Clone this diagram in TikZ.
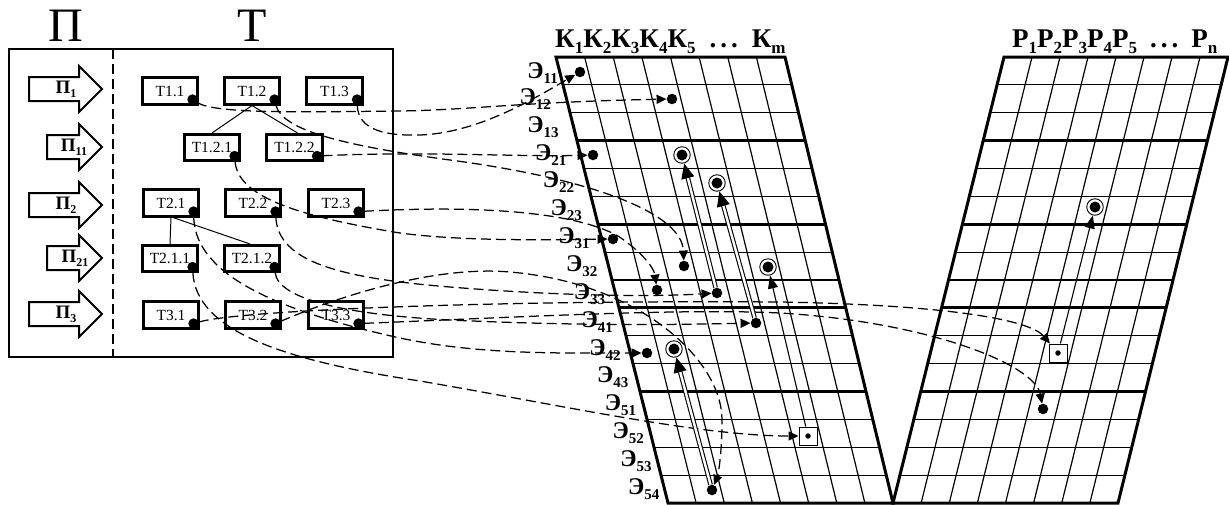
\documentclass[tikz,border=0pt]{standalone}
\usepackage{fontspec}
\setmainfont{Liberation Serif}
\usetikzlibrary{arrows.meta}
\newcommand\Esub[1]{Э\raisebox{-5pt}{\fontsize{15}{15}\selectfont #1}}
\newcommand\Hsub[2]{#1\raisebox{-6pt}{\fontsize{17}{17}\selectfont #2}}
\newcommand\Psub[1]{П\raisebox{-4pt}{\fontsize{12}{12}\selectfont #1}}
\begin{document}
\begin{tikzpicture}[x=1pt,y=-1pt,
  tbox/.style={draw, line width=2.6pt, minimum width=55.5pt, minimum height=26.5pt, inner sep=0pt, font=\fontsize{15.5}{15.5}\selectfont},
  bdot/.style={circle, fill, inner sep=0pt, minimum size=10.5pt},
  ring/.style={circle, draw, fill=white, line width=0.9pt, minimum size=16.5pt, inner sep=0pt},
  ringin/.style={circle, fill, inner sep=0pt, minimum size=11pt},
  sqm/.style={draw, fill=white, line width=1pt, minimum size=18pt, inner sep=0pt},
  sqin/.style={circle, fill, inner sep=0pt, minimum size=5.5pt},
  conn/.style={line width=1.25pt, dash pattern=on 10pt off 5pt, -{Triangle[length=10pt,width=9pt]}},
  dbl/.style={double, double distance=2.4pt, line width=1.1pt, -{Triangle[length=15pt,width=13pt]}},
  sgl/.style={line width=1.1pt, -{Triangle[length=13pt,width=10pt]}},
  thinl/.style={line width=1.2pt},
  thickl/.style={line width=3pt},
  blk/.style={line width=2pt, line join=miter},
  plab/.style={font=\fontsize{19}{19}\selectfont\bfseries, inner sep=0pt},
  elab/.style={font=\fontsize{24}{24}\selectfont\bfseries, anchor=east, inner sep=0pt},
  hlab/.style={font=\fontsize{27}{27}\selectfont\bfseries, anchor=base west, inner sep=0pt},
  big/.style={font=\fontsize{48}{48}\selectfont, inner sep=0pt}
]
\useasboundingbox (0,0) rectangle (1229,504);

% ---------- left frame ----------
\draw[thinl] (9,49) rectangle (393,357);
\draw[line width=1.5pt, dash pattern=on 10pt off 5pt] (113,49) -- (113,357);
\node[big] (Pbig) at (66,26) {П};
\node[big] (Tbig) at (252,26) {Т};

\foreach \xs/\yc/\nm/\lb/\lx in {29/89/p1/1/66, 47/147/p11/11/74, 29/205/p2/2/66, 47/258/p21/21/75, 29/314/p3/3/66} {
  \draw[blk] ({\xs},{\yc-12}) -- (79,{\yc-12}) -- (79,{\yc-23}) -- (102,{\yc}) -- (79,{\yc+23}) -- (79,{\yc+12}) -- ({\xs},{\yc+12}) -- cycle;
  \node[plab] (\nm) at ({\lx},{\yc}) {\Psub{\lb}};
}

\node[tbox] (t11) at (170,91) {T1.1};
\node[tbox] (t12) at (252,91) {T1.2};
\node[tbox] (t13) at (334.5,91) {T1.3};
\node[tbox] (t121) at (212,147.5) {T1.2.1};
\node[tbox] (t122) at (294.5,147.5) {T1.2.2};
\node[tbox] (t21) at (171,203) {T2.1};
\node[tbox] (t22) at (253,203) {T2.2};
\node[tbox] (t23) at (336,203) {T2.3};
\node[tbox] (t211) at (170,258.5) {T2.1.1};
\node[tbox] (t212) at (252,258.5) {T2.1.2};
\node[tbox] (t31) at (171,315) {T3.1};
\node[tbox] (t32) at (253,315) {T3.2};
\node[tbox] (t33) at (336,315) {T3.3};

\draw[line width=1pt] (t12.south) -- (t121.north);
\draw[line width=1pt] (t12.south) -- ([xshift=3pt]t122.north);
\draw[line width=1pt] (t21.south) -- (t211.north);
\draw[line width=1pt] ([xshift=2pt]t21.south) -- ([xshift=-2pt]t212.north);

\foreach \n in {t11,t12,t13,t121,t122,t21,t22,t23,t211,t212,t31,t32,t33}
  \node[bdot] (d\n) at ([shift={(-6.5,-6)}]\n.south east) {};

% ---------- left grid (K) ----------
\foreach \j in {1,2,4,5,7,8,10,11,13,14,15}
  \draw[thinl] ({556+7*\j},{57+27.875*\j}) -- ({785+6.75*\j},{57+27.875*\j});
\foreach \i in {1,...,7}
  \draw[thinl] ({556+28.625*\i},57) -- ({668+28.125*\i},503);
\foreach \j in {3,6,9,12}
  \draw[thickl] ({556+7*\j},{57+27.875*\j}) -- ({785+6.75*\j},{57+27.875*\j});
\draw[thickl, line join=miter] (556,57) -- (785,57) -- (893,503) -- (668,503) -- cycle;

% ---------- right grid (P) ----------
\foreach \j in {1,2,4,5,7,8,10,11,13,14,15}
  \draw[thinl] ({1004-6.9375*\j},{57+27.875*\j}) -- ({1228-6.875*\j},{57+27.875*\j});
\foreach \i in {1,...,7}
  \draw[thinl] ({1004+28*\i},57) -- ({893+28.125*\i},503);
\foreach \j in {3,6,9,12}
  \draw[thickl] ({1004-6.9375*\j},{57+27.875*\j}) -- ({1228-6.875*\j},{57+27.875*\j});
\draw[thickl, line join=miter] (1004,57) -- (1228,57) -- (1118,503) -- (893,503) -- cycle;

% ---------- headers ----------
\node[hlab] (hk) at (555,47) {\Hsub{К}{1}\Hsub{К}{2}\Hsub{К}{3}\Hsub{К}{4}\Hsub{К}{5}\hspace{14pt}.\hspace{4pt}.\hspace{4pt}.\hspace{14pt}\Hsub{К}{m}};
\node[hlab] (hp) at (1012,47) {\Hsub{Р}{1}\Hsub{Р}{2}\Hsub{Р}{3}\Hsub{Р}{4}\Hsub{Р}{5}\hspace{13pt}.\hspace{4pt}.\hspace{4pt}.\hspace{13pt}\Hsub{Р}{n}};

% ---------- row labels ----------
\node[elab] (e11) at (558,73) {\Esub{11}};
\foreach \r/\lb in {2/12,3/13,4/21,5/22,6/23,7/31,8/32,9/33,10/41,11/42,12/43,13/51,14/52,15/53,16/54}
  \node[elab] (e\lb) at ({556+7*(\r-0.5)-17+0.75*\r},{57+27.875*(\r-0.5)}) {\Esub{\lb}};

% ---------- markers ----------
\node[bdot] (D1) at (580,72) {};
\node[bdot] (D2) at (672,99) {};
\node[bdot] (D3) at (593,155) {};
\node[bdot] (D4) at (613,239) {};
\node[bdot] (D5) at (684,266) {};
\node[bdot] (D6) at (657,290) {};
\node[bdot] (D7) at (717,293) {};
\node[bdot] (D8) at (756,323) {};
\node[bdot] (D9) at (647,353) {};
\node[sqm]  (D10) at (808,436) {};
\node[sqin] (D10i) at (D10) {};
\node[bdot] (D11) at (712,490) {};
\node[sqm]  (D12) at (1058,353) {};
\node[sqin] (D12i) at (D12) {};
\node[bdot] (D13) at (1043,409) {};
\foreach \nm/\pos in {R1/{(682,155)}, R2/{(717,183)}, R3/{(768,267)}, R4/{(674,349)}, R5/{(1095,207)}} {
  \node[ring] (\nm) at \pos {};
  \node[ringin] (\nm i) at \pos {};
}

% ---------- dashed connectors ----------
\draw[conn] (dt11) .. controls (215,114) and (300,112) .. (400,111) .. controls (470,110) and (520,102) .. (D2);
\draw[conn] (dt13) .. controls (358,130) and (385,136) .. (420,135) .. controls (480,133) and (540,95) .. (D1);
\draw[conn] (dt122) .. controls (420,151) and (520,157) .. (D3);
\draw[conn] (dt12) .. controls (282,130) and (340,145) .. (450,160) .. controls (600,180) and (682,215) .. (D5);
\draw[conn] (dt121) .. controls (238,195) and (290,215) .. (400,233) .. controls (460,241) and (540,240) .. (D4);
\draw[conn] (dt23) .. controls (480,205) and (575,212) .. (618,236) .. controls (642,252) and (654,268) .. (D6);
\draw[conn] (dt21) .. controls (195,265) and (250,305) .. (400,338) .. controls (480,355) and (560,353) .. (D9);
\draw[conn] (dt211) .. controls (196,330) and (280,360) .. (420,381) .. controls (560,405) and (700,436) .. (D10);
\draw[conn] (dt22) .. controls (278,262) and (340,278) .. (450,287) .. controls (560,296) and (650,297) .. (D7);
\draw[conn] (dt212) .. controls (278,300) and (350,315) .. (450,320) .. controls (600,327) and (700,324) .. (D8);
\draw[conn] (dt31) .. controls (240,310) and (500,300) .. (780,302) .. controls (950,305) and (1030,320) .. (D12);
\draw[conn] (dt33) .. controls (500,318) and (680,308) .. (780,313) .. controls (930,322) and (1035,365) .. (D13);
\draw[conn] (dt32) .. controls (330,300) and (430,265) .. (510,272) .. controls (640,283) and (722,360) .. (722,420) .. controls (722,455) and (718,475) .. (D11);

% ---------- solid arrows ----------
\draw[dbl] (D7) -- (R1);
\draw[dbl] (D8) -- (R2);
\draw[dbl] (D11) -- (R4);
\draw[sgl] (D10) -- (R3);
\draw[sgl] (D12) -- (R5);
\end{tikzpicture}
\end{document}
